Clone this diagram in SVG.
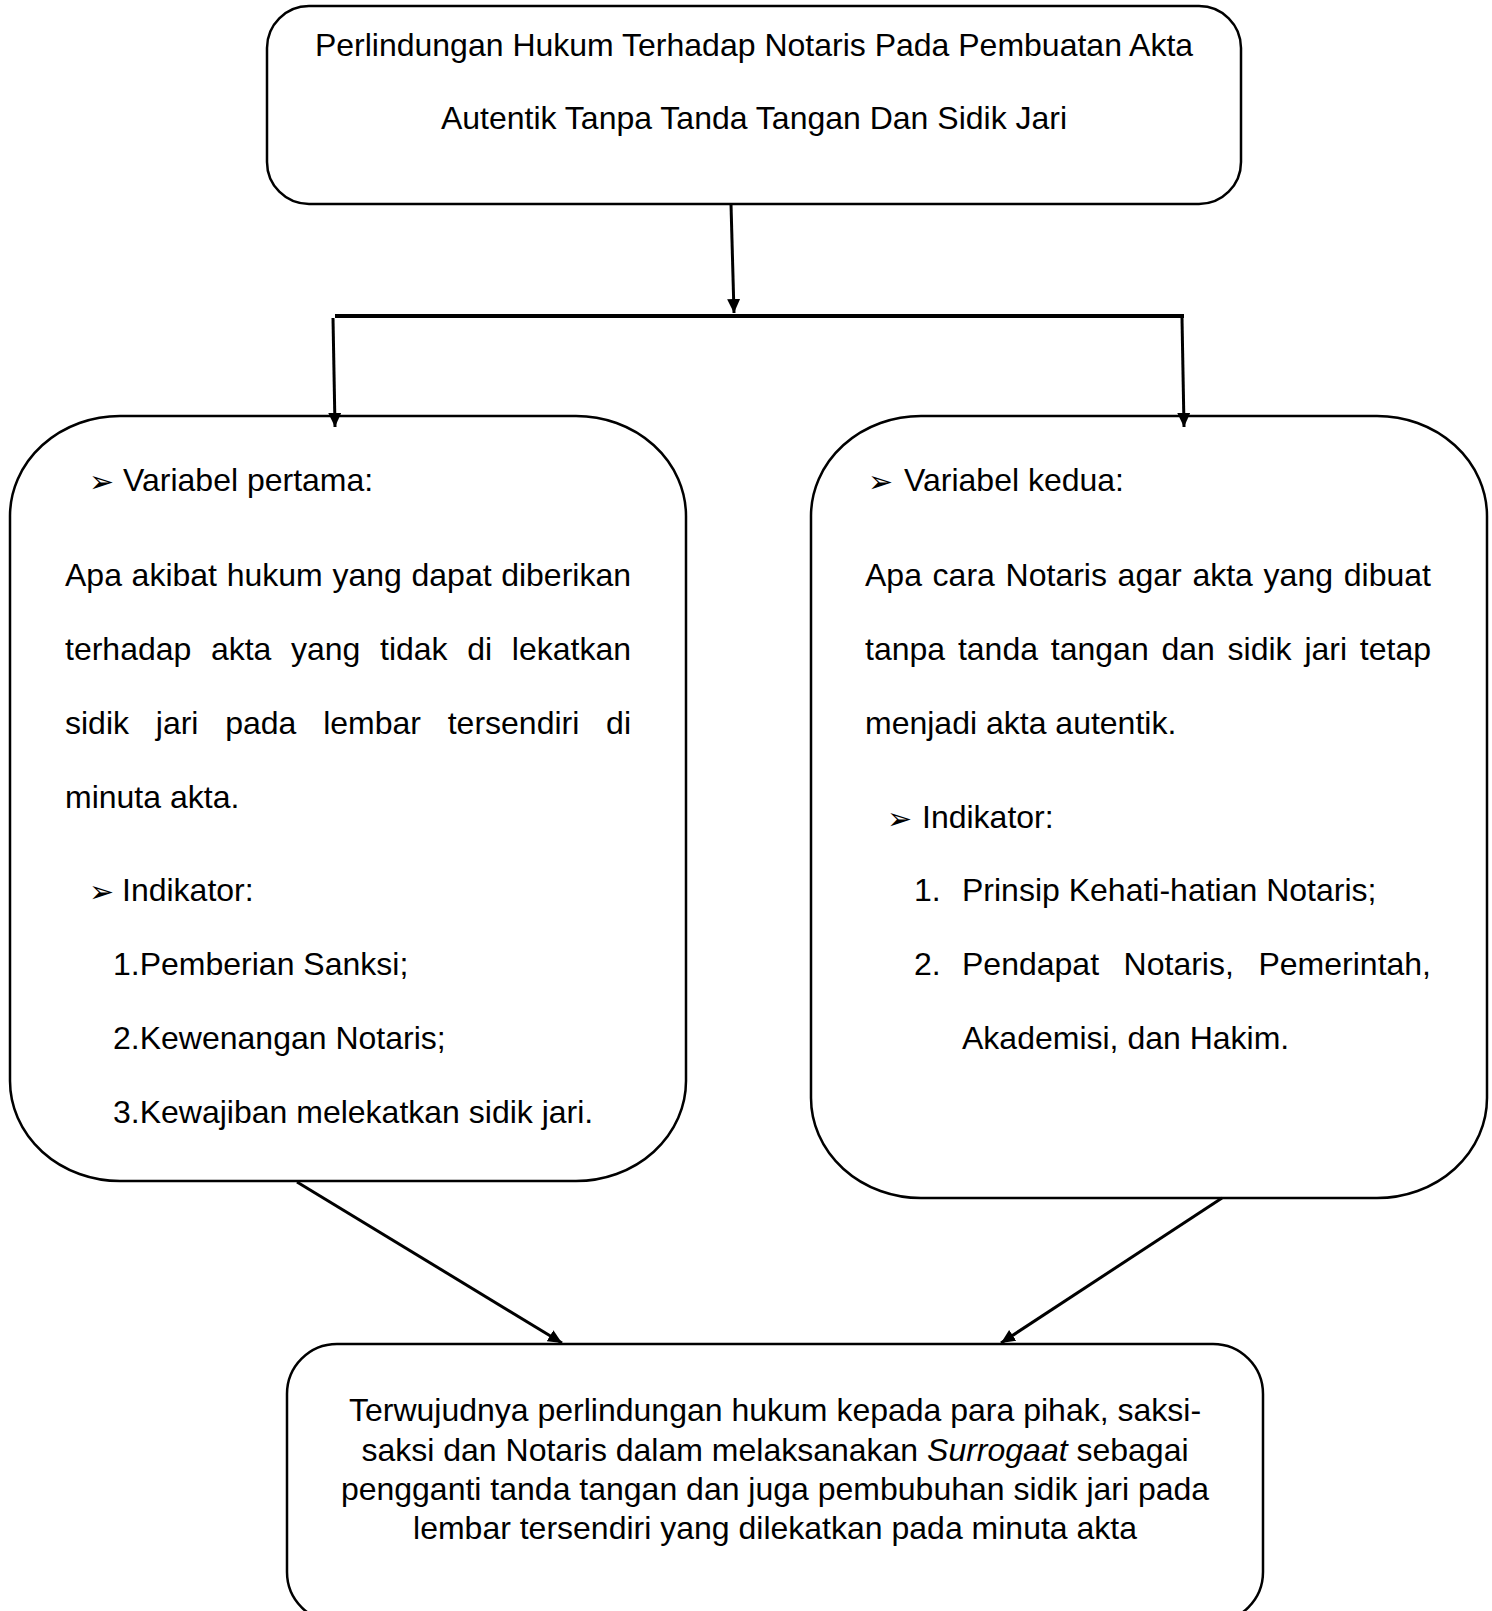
<svg xmlns="http://www.w3.org/2000/svg" width="1492" height="1611" viewBox="0 0 1492 1611">
<style>
  .box{fill:#fff;stroke:#000;stroke-width:2.5}
  .t{font-family:"Liberation Sans",Arial,sans-serif;font-size:32px;fill:#000}
  .c{text-anchor:middle}
  .e{text-anchor:end}
  .b{font-family:"DejaVu Sans",sans-serif;font-size:30px;fill:#000}
  .ln{stroke:#000;stroke-width:3;fill:none}
</style>
<defs>
  <marker id="ah" markerUnits="userSpaceOnUse" markerWidth="16" markerHeight="14" refX="14" refY="6.5" orient="auto">
    <path d="M0,0 L14,6.5 L0,13 Z" fill="#000"/>
  </marker>
</defs>
<rect width="1492" height="1611" fill="#fff"/>

<g id="node-top">
  <rect class="box" x="267" y="6" width="974" height="198" rx="42" ry="42"/>
  <text class="t c" x="754" y="56">Perlindungan Hukum Terhadap Notaris Pada Pembuatan Akta</text>
  <text class="t c" x="754" y="129">Autentik Tanpa Tanda Tangan Dan Sidik Jari</text>
</g>

<g id="node-left">
  <rect class="box" x="10" y="416" width="676" height="765" rx="110" ry="100" stroke-width="2"/>
  <text class="b" x="89" y="492">➢</text>
  <text class="t" x="123" y="491">Variabel pertama:</text>
  <text class="t" y="586"><tspan x="65">Apa</tspan><tspan x="131.6">akibat</tspan><tspan x="226.7">hukum</tspan><tspan x="332.4">yang</tspan><tspan x="411.5">dapat</tspan></text>
  <text class="t e" x="631" y="586">diberikan</text>
  <text class="t" y="660"><tspan x="65">terhadap</tspan><tspan x="210.9">akta</tspan><tspan x="291">yang</tspan><tspan x="380">tidak</tspan><tspan x="467.2">di</tspan></text>
  <text class="t e" x="631" y="660">lekatkan</text>
  <text class="t" y="734"><tspan x="65">sidik</tspan><tspan x="155.8">jari</tspan><tspan x="225.2">pada</tspan><tspan x="323.2">lembar</tspan><tspan x="447.7">tersendiri</tspan></text>
  <text class="t e" x="631" y="734">di</text>
  <text class="t" x="65" y="808">minuta akta.</text>
  <text class="b" x="89" y="902">➢</text>
  <text class="t" x="122" y="901">Indikator:</text>
  <text class="t" x="113" y="975">1.Pemberian Sanksi;</text>
  <text class="t" x="113" y="1049">2.Kewenangan Notaris;</text>
  <text class="t" x="113" y="1123">3.Kewajiban melekatkan sidik jari.</text>
</g>

<g id="node-right">
  <rect class="box" x="811" y="416" width="676" height="782" rx="110" ry="100" stroke-width="2"/>
  <text class="b" x="868" y="492">➢</text>
  <text class="t" x="904" y="491">Variabel kedua:</text>
  <text class="t" y="586"><tspan x="865">Apa</tspan><tspan x="932.6">cara</tspan><tspan x="1005.6">Notaris</tspan><tspan x="1117.6">agar</tspan><tspan x="1192.4">akta</tspan><tspan x="1263.6">yang</tspan></text>
  <text class="t e" x="1431" y="586">dibuat</text>
  <text class="t" y="660"><tspan x="865">tanpa</tspan><tspan x="957.9">tanda</tspan><tspan x="1050.8">tangan</tspan><tspan x="1161.4">dan</tspan><tspan x="1227.6">sidik</tspan><tspan x="1304.4">jari</tspan></text>
  <text class="t e" x="1431" y="660">tetap</text>
  <text class="t" x="865" y="734">menjadi akta autentik.</text>
  <text class="b" x="887" y="829">➢</text>
  <text class="t" x="922" y="828">Indikator:</text>
  <text class="t" x="914" y="901">1.</text>
  <text class="t" x="962" y="901">Prinsip Kehati-hatian Notaris;</text>
  <text class="t" x="914" y="975">2.</text>
  <text class="t" y="975"><tspan x="962">Pendapat</tspan><tspan x="1123.6">Notaris,</tspan></text>
  <text class="t e" x="1431" y="975">Pemerintah,</text>
  <text class="t" x="962" y="1049">Akademisi, dan Hakim.</text>
</g>

<g id="node-bottom">
  <rect class="box" x="287" y="1344" width="976" height="278" rx="50" ry="50"/>
  <text class="t c" x="775" y="1421">Terwujudnya perlindungan hukum kepada para pihak, saksi-</text>
  <text class="t c" x="775" y="1461">saksi dan Notaris dalam melaksanakan <tspan font-style="italic">Surrogaat</tspan> sebagai</text>
  <text class="t c" x="775" y="1500">pengganti tanda tangan dan juga pembubuhan sidik jari pada</text>
  <text class="t c" x="775" y="1539">lembar tersendiri yang dilekatkan pada minuta akta</text>
</g>

<g id="connectors">
  <line class="ln" x1="731" y1="204" x2="734" y2="313" marker-end="url(#ah)"/>
  <line x1="335" y1="316" x2="1184" y2="316" stroke="#000" stroke-width="4"/>
  <line class="ln" x1="333" y1="318" x2="335" y2="427" marker-end="url(#ah)"/>
  <line class="ln" x1="1182" y1="318" x2="1184" y2="427" marker-end="url(#ah)"/>
  <line class="ln" x1="297" y1="1182" x2="562" y2="1343" marker-end="url(#ah)"/>
  <line class="ln" x1="1222" y1="1198" x2="1001" y2="1343" marker-end="url(#ah)"/>
</g>
</svg>
